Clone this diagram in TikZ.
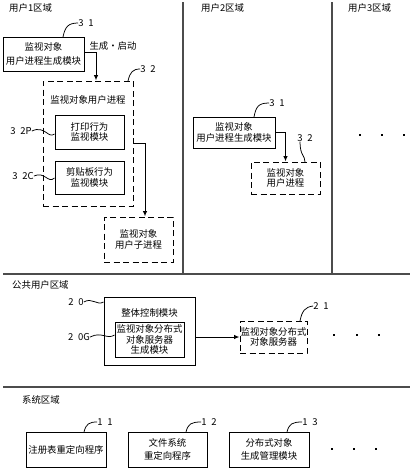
\documentclass[tikz,border=0pt]{standalone}
\usepackage{fontspec}
\setmainfont{Noto Sans CJK SC}
\usepackage{tikz}
\usetikzlibrary{arrows.meta,positioning,calc}
\tikzset{
  >={Latex[length=5.5pt,width=4.5pt]},
  box/.style={rectangle,draw,line width=1pt,inner sep=0pt,align=center,
    font=\fontsize{9.4}{10.5}\selectfont},
  wbox/.style={box,font=\fontsize{9.4}{13.5}\selectfont},
  dbox/.style={box,dash pattern=on 6pt off 3.5pt},
  arr/.style={->, line width=1pt},
  lead/.style={line width=0.75pt},
  num/.style={inner sep=0pt,font=\fontsize{9.5}{11}\selectfont},
  zone/.style={line width=1.1pt, black!70},
  ztxt/.style={inner sep=0pt,anchor=west,font=\fontsize{9.4}{11}\selectfont}
}

\begin{document}
\begin{tikzpicture}[x=1pt,y=-1pt]
    \useasboundingbox (0,0) rectangle (413,469);

    % Region borders
    \draw[zone] (183,2) -- (183,274);
    \draw[zone] (332,2) -- (332,274);
    \draw[zone] (3,274) -- (410,274);
    \draw[zone] (3,387) -- (410,387);

    \node[ztxt] (z1) at (9,8) {用户1区域};
    \node[ztxt] (z2) at (201,8) {用户2区域};
    \node[ztxt] (z3) at (348,8) {用户3区域};
    \node[ztxt] (zc) at (12,285) {公共用户区域};
    \node[ztxt] (zs) at (22,400) {系统区域};

    % User 1 region
    \node[wbox, minimum width=81, minimum height=34] (m31a) at (43.5,54)
        {监视对象\\用户进程生成模块};
    \node[dbox, minimum width=90, minimum height=125] (p32a) at (88,143.5) {};
    \node[inner sep=0pt, font=\fontsize{9.4}{11}\selectfont] (p32t) at (88,100) {监视对象用户进程};
    \node[box, minimum width=69, minimum height=34] (mon32p) at (89.5,132)
        {打印行为\\监视模块};
    \node[box, minimum width=69, minimum height=33] (mon32c) at (89.5,177.5)
        {剪贴板行为\\监视模块};
    \node[dbox, minimum width=69, minimum height=45] (child) at (138.5,239.5)
        {监视对象\\用户子进程};
    \node[inner sep=0pt, font=\fontsize{9.4}{11}\selectfont] (gen) at (113,46) {生成・启动};

    \draw[arr] ([yshift=2pt]m31a.east) -| ([xshift=8pt]p32a.north);
    \draw[arr] (p32a.east) -| ([xshift=6.5pt]child.north);

    \node[num] (n31a) at (86,23) {3\enspace1};
    \node[num] (n32a) at (148,69) {3\enspace2};
    \node[num] (n32p) at (21,131) {3\enspace2P};
    \node[num] (n32c) at (23,176) {3\enspace2C};
    \draw[lead] (63,37) .. controls (65,27) and (68,23) .. (n31a.west);
    \draw[lead] (128,81) .. controls (130,72) and (133,69) .. (n32a.west);
    \draw[lead] (n32p.east) .. controls (45,125) and (48,139) .. (mon32p.west |- 0,134);
    \draw[lead] (n32c.east) .. controls (45,171) and (48,184) .. (mon32c.west |- 0,178);

    % User 2 region
    \node[box, minimum width=82, minimum height=31] (m31b) at (234,132.5)
        {监视对象\\用户进程生成模块};
    \node[dbox, minimum width=69, minimum height=32] (p32b) at (285.5,178)
        {监视对象\\用户进程};
    \draw[arr] (m31b.east) -| (p32b.north);

    \node[num] (n31b) at (277,103) {3\enspace1};
    \node[num] (n32b) at (305,138) {3\enspace2};
    \draw[lead] (254,117) .. controls (256,107) and (258,103) .. (n31b.west);
    \draw[lead] (305,162) .. controls (305,155) and (300,156) .. (n32b.south -| 300,0);

    % User 3 region
    \foreach \x in {360,382,404}
        \fill (\x-1.4,135-1.4) rectangle ++(2.8,2.8);

    % Common user region
    \node[box, minimum width=91, minimum height=68] (m20) at (149.5,331) {};
    \node[inner sep=0pt, font=\fontsize{9.4}{11}\selectfont] (m20t) at (149.5,313) {整体控制模块};
    \node[box, minimum width=69, minimum height=35] (m20g) at (149.5,339.5)
        {监视对象分布式\\对象服务器\\生成模块};
    \node[dbox, minimum width=67, minimum height=32] (srv21) at (273.5,337)
        {监视对象分布式\\对象服务器};
    \draw[arr] (srv21.west -| m20.east) -- (srv21.west);

    \node[num] (n20) at (76,302) {2\enspace0};
    \node[num] (n20g) at (79,337) {2\enspace0G};
    \node[num] (n21) at (321,306) {2\enspace1};
    \draw[lead] (n20.east) .. controls (92,297) and (97,306) .. (m20.west |- 0,302);
    \draw[lead] (n20g.east) .. controls (102,331) and (107,340) .. (m20g.west |- 0,335);
    \draw[lead] (300,321) .. controls (302,311) and (305,307) .. (n21.west);

    \foreach \x in {334,357,379}
        \fill (\x-1.4,335-1.4) rectangle ++(2.8,2.8);

    % System region
    \node[wbox, minimum width=80, minimum height=35] (r11) at (66,449.5) {注册表重定向程序};
    \node[wbox, minimum width=79, minimum height=35] (r12) at (167.5,449.5) {文件系统\\重定向程序};
    \node[wbox, minimum width=80, minimum height=35] (r13) at (269,449.5) {分布式对象\\生成管理模块};

    \node[num] (n11) at (105,422) {1\enspace1};
    \node[num] (n12) at (209,422) {1\enspace2};
    \node[num] (n13) at (310,422) {1\enspace3};
    \draw[lead] (84,432) .. controls (86,424) and (89,422) .. (n11.west);
    \draw[lead] (186,432) .. controls (188,424) and (191,422) .. (n12.west);
    \draw[lead] (287,432) .. controls (289,424) and (292,422) .. (n13.west);

    \foreach \x in {332,354,376}
        \fill (\x-1.4,449-1.4) rectangle ++(2.8,2.8);

\end{tikzpicture}
\end{document}
